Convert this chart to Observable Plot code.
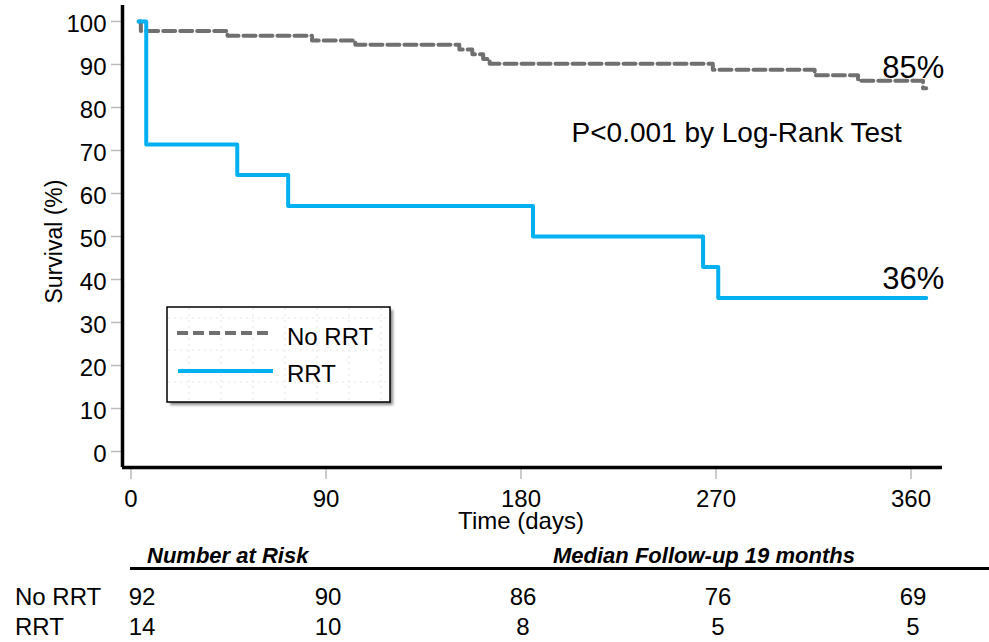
<!DOCTYPE html>
<html><head><meta charset="utf-8">
<script src="https://cdn.jsdelivr.net/npm/d3@7"></script>
<script src="https://cdn.jsdelivr.net/npm/@observablehq/plot@0.6"></script>
<style>
body{margin:0;background:#fff;}
#chart{position:relative;width:989px;height:642px;overflow:hidden;}
</style></head><body><div id="chart"></div>
<script>
// ---- data ----
const seriesNames = ["No RRT", "RRT"];
const seriesColors = ["#707070", "#00B0F0"];
const noRrtDays = [1, 2, 42, 81, 101, 149, 155, 160, 163, 266, 313, 333, 363, 364.5];
const noRrtSurv = [100, 97.8, 96.7, 95.6, 94.6, 93.5, 92.4, 91.3, 90.2, 88.8, 87.5, 86.2, 84.5, 84.5];
const rrtDays = [1, 4.5, 46.5, 70, 183, 261.5, 268.5, 364.5];
const rrtSurv = [100, 71.4, 64.3, 57.1, 50, 42.9, 35.7, 35.7];
const endLabels = ["85%", "36%"];
const endLabelValues = [85, 36];
const xTicks = [0, 90, 180, 270, 360];
const yTicks = [0, 10, 20, 30, 40, 50, 60, 70, 80, 90, 100];
const riskTimes = [0, 90, 180, 270, 360];
const riskNoRrt = [92, 90, 86, 76, 69];
const riskRrt = [14, 10, 8, 5, 5];
const pText = "P<0.001 by Log-Rank Test";
const pAt = {t: 277, s: 74};
const xTitle = "Time (days)";
const yTitle = "Survival (%)";
const riskTitle = "Number at Risk";
const followTitle = "Median Follow-up 19 months";

// ---- build tables ----
const noRrt = noRrtDays.map((t, i) => ({group: seriesNames[0], t, s: noRrtSurv[i]}));
const rrt = rrtDays.map((t, i) => ({group: seriesNames[1], t, s: rrtSurv[i]}));
const endData = [
  {t: noRrtDays[noRrtDays.length - 1], v: endLabelValues[0], label: endLabels[0]},
  {t: rrtDays[rrtDays.length - 1], v: endLabelValues[1], label: endLabels[1]}
];

const xDomain = [-6.46, 372];
const yDomain = [-3.72, 103.72];
const FONT = "'Liberation Sans', Arial, Helvetica, sans-serif";

const shadow = {x: "t", y: "s", stroke: "#808080", strokeOpacity: 0.75, strokeWidth: 4, dx: 3, dy: 3, curve: "step-after", ariaLabel: "shadow"};

const plot = Plot.plot({
  width: 989, height: 642,
  marginLeft: 122, marginRight: 47, marginTop: 5, marginBottom: 175,
  style: {fontFamily: FONT, fontSize: "24px", color: "black", background: "white"},
  x: {domain: xDomain, ticks: xTicks, label: null},
  y: {domain: yDomain, ticks: yTicks, label: null},
  marks: [
    Plot.line(noRrt, shadow),
    Plot.line(rrt, shadow),
    Plot.line(noRrt, {x: "t", y: "s", stroke: seriesColors[0], strokeWidth: 4, strokeDasharray: "12,5", curve: "step-after"}),
    Plot.line(rrt, {x: "t", y: "s", stroke: seriesColors[1], strokeWidth: 4, curve: "step-after"}),
    Plot.axisX({ticks: xTicks, tickSize: 12, tickPadding: 10, stroke: "#bbb", strokeWidth: 1.5, fill: "black", fontSize: 24, dx: -5.5, label: null}),
    Plot.axisY({ticks: yTicks, tickSize: 11, tickFormat: () => "", stroke: "#bbb", strokeWidth: 1.5, label: null}),
    Plot.axisY({ticks: yTicks, tickSize: 0, tickPadding: 16, dy: 3, fill: "black", fontSize: 24, label: null}),
    Plot.ruleX([xDomain[0]], {stroke: "black", strokeWidth: 3.5}),
    Plot.ruleY([yDomain[0]], {stroke: "black", strokeWidth: 3.5}),
    Plot.text(endData, {x: "t", y: "v", text: "label", textAnchor: "end", dx: 18, dy: -18, fontSize: 31, fill: "black"}),
    Plot.text([pText], {x: () => pAt.t, y: () => pAt.s, fontSize: 28, fill: "black"}),
    Plot.text([xTitle], {frameAnchor: "bottom", lineAnchor: "middle", textAnchor: "middle", dx: -11.5, dy: 54, fontSize: 24, fill: "black"}),
    Plot.text([yTitle], {frameAnchor: "left", lineAnchor: "middle", textAnchor: "middle", rotate: -90, dx: -68, dy: 5, fontSize: 23, fill: "black"})
  ]
});

const svg = d3.select(plot);
const defs = svg.insert("defs", ":first-child");
const f = defs.append("filter").attr("id", "blurShadow").attr("x", "-10%").attr("y", "-10%").attr("width", "120%").attr("height", "140%");
f.append("feGaussianBlur").attr("stdDeviation", 1.6);
svg.selectAll('g[aria-label="shadow"]').attr("filter", "url(#blurShadow)");

// ---- legend ----
const lg = svg.append("g").attr("font-family", FONT).attr("text-anchor", "start");
lg.append("rect").attr("x", 170).attr("y", 310).attr("width", 223).attr("height", 95)
  .attr("fill", "#8a8a8a").attr("filter", "url(#blurShadow)");
lg.append("rect").attr("x", 167).attr("y", 307).attr("width", 223).attr("height", 95)
  .attr("fill", "white");
for (let gx = 189; gx < 390; gx += 32) {
  lg.append("line").attr("x1", gx).attr("x2", gx).attr("y1", 308).attr("y2", 401)
    .attr("stroke", "#e6e6e6").attr("stroke-dasharray", "2,4");
}
for (let gy = 318; gy < 402; gy += 32) {
  lg.append("line").attr("x1", 168).attr("x2", 389).attr("y1", gy).attr("y2", gy)
    .attr("stroke", "#e6e6e6").attr("stroke-dasharray", "2,4");
}
lg.append("rect").attr("x", 167).attr("y", 307).attr("width", 223).attr("height", 95)
  .attr("fill", "none").attr("stroke", "black").attr("stroke-width", 1.5);
lg.append("line").attr("x1", 177).attr("x2", 268).attr("y1", 333).attr("y2", 333)
  .attr("stroke", seriesColors[0]).attr("stroke-width", 4).attr("stroke-dasharray", "11,5");
lg.append("line").attr("x1", 178).attr("x2", 273).attr("y1", 371).attr("y2", 371)
  .attr("stroke", seriesColors[1]).attr("stroke-width", 4);
lg.append("text").attr("x", 287).attr("y", 345).attr("font-size", 24).attr("text-anchor", "start").attr("fill", "black").text(seriesNames[0]);
lg.append("text").attr("x", 287).attr("y", 382).attr("font-size", 24).attr("text-anchor", "start").attr("fill", "black").text(seriesNames[1]);

// ---- number at risk table ----
const xs = plot.scale("x");
const tb = svg.append("g").attr("font-family", FONT).attr("fill", "black").attr("text-anchor", "start");
tb.append("text").attr("x", 147).attr("y", 563).attr("font-size", 22).attr("text-anchor", "start").attr("font-weight", "bold").attr("font-style", "italic").text(riskTitle);
tb.append("text").attr("x", 553).attr("y", 563).attr("font-size", 22).attr("text-anchor", "start").attr("font-weight", "bold").attr("font-style", "italic").text(followTitle);
tb.append("line").attr("x1", 130).attr("x2", 989).attr("y1", 568.5).attr("y2", 568.5).attr("stroke", "black").attr("stroke-width", 3);
tb.append("text").attr("x", 15).attr("y", 605).attr("font-size", 24).attr("text-anchor", "start").text(seriesNames[0]);
tb.append("text").attr("x", 15).attr("y", 635).attr("font-size", 24).attr("text-anchor", "start").text(seriesNames[1]);
riskTimes.forEach((t, i) => {
  const cx = xs.apply(t) + (i === 0 ? 6 : -3);
  tb.append("text").attr("x", cx).attr("y", 605).attr("font-size", 24).attr("text-anchor", "middle").text(riskNoRrt[i]);
  tb.append("text").attr("x", cx).attr("y", 635).attr("font-size", 24).attr("text-anchor", "middle").text(riskRrt[i]);
});

document.getElementById("chart").appendChild(plot);
</script></body></html>
